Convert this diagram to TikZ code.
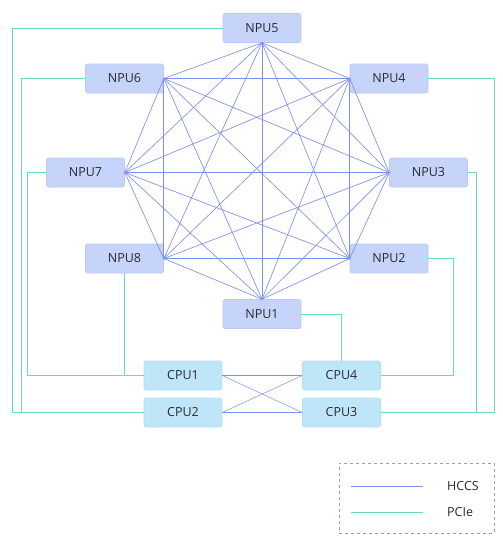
\documentclass[tikz,border=0pt]{standalone}
\usepackage{fontspec}
\setmainfont{Open Sans}
\definecolor{npufill}{RGB}{198,212,250}
\definecolor{npuedge}{RGB}{186,202,246}
\definecolor{cpufill}{RGB}{190,230,248}
\definecolor{cpuedge}{RGB}{176,222,244}
\definecolor{hccs}{RGB}{128,142,238}
\definecolor{pcie}{RGB}{110,214,196}
\definecolor{txt}{RGB}{40,42,50}
\begin{document}
\begin{tikzpicture}[x=1pt,y=-1pt,
  npubox/.style={draw=npuedge,line width=0.6pt,fill=npufill,rounded corners=2pt,minimum width=78pt,minimum height=29pt,inner sep=0pt,font=\fontsize{12.5}{13}\selectfont,text=txt},
  cpubox/.style={draw=cpuedge,line width=0.6pt,fill=cpufill,rounded corners=2pt,minimum width=78pt,minimum height=29pt,inner sep=0pt,font=\fontsize{12.5}{13}\selectfont,text=txt},
  hccsline/.style={draw=hccs,line width=0.65pt},
  pcieline/.style={draw=pcie,line width=0.9pt},
  legtext/.style={font=\fontsize{12.5}{13}\selectfont,text=txt,anchor=west,inner sep=0pt}]
\useasboundingbox (0,0) rectangle (503,558);
\node[npubox] (npu5) at (262,28) {NPU5};
\node[npubox] (npu6) at (124.5,78.5) {NPU6};
\node[npubox] (npu4) at (389,78.5) {NPU4};
\node[npubox] (npu7) at (85.5,172.5) {NPU7};
\node[npubox] (npu3) at (428.5,172.5) {NPU3};
\node[npubox] (npu8) at (124.5,258.5) {NPU8};
\node[npubox] (npu2) at (389,258.5) {NPU2};
\node[npubox] (npu1) at (262,314) {NPU1};
\node[cpubox] (cpu1) at (183,375.5) {CPU1};
\node[cpubox] (cpu2) at (183,412.5) {CPU2};
\node[cpubox] (cpu4) at (341.5,375.5) {CPU4};
\node[cpubox] (cpu3) at (341.5,412.5) {CPU3};
% hub points
\coordinate (h5) at (npu5.south);
\coordinate (h6) at (npu6.east);
\coordinate (h4) at (npu4.west);
\coordinate (h7) at (npu7.east);
\coordinate (h3) at (npu3.west);
\coordinate (h8) at (npu8.east);
\coordinate (h2) at (npu2.west);
\coordinate (h1) at (npu1.north);
% HCCS full mesh
\foreach \a/\b in {h5/h6,h5/h4,h5/h7,h5/h3,h5/h8,h5/h2,h5/h1,
                   h6/h4,h6/h7,h6/h3,h6/h8,h6/h2,h6/h1,
                   h4/h7,h4/h3,h4/h8,h4/h2,h4/h1,
                   h7/h3,h7/h8,h7/h2,h7/h1,
                   h3/h8,h3/h2,h3/h1,
                   h8/h2,h8/h1,
                   h2/h1}
  \draw[hccsline] (\a) -- (\b);
\foreach \h in {h1,h2,h3,h4,h5,h6,h7,h8}
  \fill[hccs] (\h) circle (1.1pt);
% CPU interconnect
\draw[hccsline,line width=0.5pt] (cpu1.east) -- (cpu4.west);
\draw[hccsline,line width=0.5pt] (cpu2.east) -- (cpu3.west);
\draw[hccsline,line width=0.5pt] (cpu1.east) -- (cpu3.west);
\draw[hccsline,line width=0.5pt] (cpu2.east) -- (cpu4.west);
% PCIe bend columns
\coordinate (c5) at (12,0);
\coordinate (c6) at (21,0);
\coordinate (c7) at (27,0);
\coordinate (c4) at (494,0);
\coordinate (c3) at (476,0);
\coordinate (c2) at (453,0);
\draw[pcieline] (npu5.west) -| (c5 |- cpu2.west) -- (cpu2.west);
\draw[pcieline] (npu6.west) -| (c6 |- cpu2.west) -- (cpu2.west);
\draw[pcieline] (npu7.west) -| (c7 |- cpu1.west) -- (cpu1.west);
\draw[pcieline] (npu8.south) -- (npu8.south |- cpu1.west);
\draw[pcieline] (npu4.east) -| (c4 |- cpu3.east) -- (cpu3.east);
\draw[pcieline] (npu3.east) -| (c3 |- cpu3.east) -- (cpu3.east);
\draw[pcieline] (npu2.east) -| (c2 |- cpu4.east) -- (cpu4.east);
\draw[pcieline] (npu1.east) -| (cpu4.north);
% Legend
\node[draw=gray!75,dashed,line width=0.7pt,minimum width=155pt,minimum height=70pt,inner sep=0pt] (legend) at (416.5,498) {};
\coordinate (la1) at (351,486);
\coordinate (la2) at (423,486);
\coordinate (lb1) at (351,512);
\coordinate (lb2) at (423,512);
\draw[hccsline] (la1) -- (la2);
\draw[pcieline] (lb1) -- (lb2);
\node[legtext] (lh) at (447,486) {HCCS};
\node[legtext] (lp) at (447,512) {PCIe};
\end{tikzpicture}
\end{document}
